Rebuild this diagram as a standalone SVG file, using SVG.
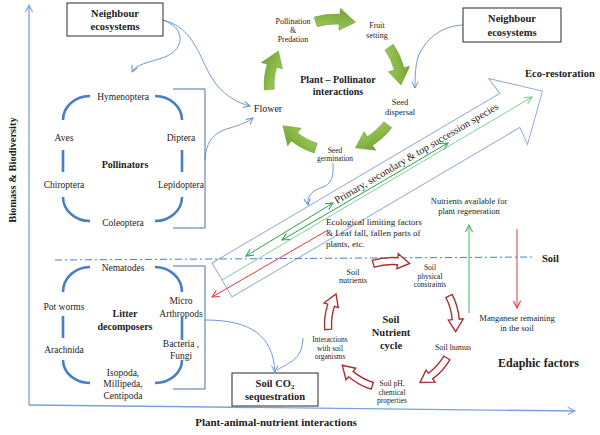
<svg xmlns="http://www.w3.org/2000/svg" xmlns:xlink="http://www.w3.org/1999/xlink" width="600" height="435" viewBox="0 0 600 435" font-family="'Liberation Serif', 'DejaVu Serif', serif">
<style>
text{font-family:"Liberation Serif","DejaVu Serif",serif;fill:#1c1c1c}
.m{text-anchor:middle}
.b{font-weight:bold}
.s95{font-size:9.5px}
.s8{font-size:8px}
.s75{font-size:7.5px}
.s85{font-size:8.5px}
.box{fill:#fff;stroke:#2a2a2a;stroke-width:1}
.arc{fill:none;stroke:#4a7ec4;stroke-width:2.6;stroke-linecap:butt}
.brk{fill:none;stroke:#4f70a8;stroke-width:1}
.blue{fill:none;stroke:#5b8fd0;stroke-width:0.9;marker-end:url(#ab)}
.axis{fill:none;stroke:#7aa2dc;stroke-width:1.3}
.red{fill:#fff;stroke:#a83232;stroke-width:1.4}
.grn{fill:url(#gg);stroke:#6f9a34;stroke-width:0.5}
</style>
<defs>
<linearGradient id="gg" x1="0" y1="0" x2="1" y2="1">
<stop offset="0" stop-color="#a9cf68"/>
<stop offset="0.5" stop-color="#8ab948"/>
<stop offset="1" stop-color="#6c9b2c"/>
</linearGradient>
<marker id="ab" viewBox="0 0 10 10" refX="9" refY="5" markerWidth="8" markerHeight="8" orient="auto" markerUnits="userSpaceOnUse"><path d="M1,1 L9,5 L1,9" fill="none" stroke="#5b8fd0" stroke-width="1.2"/></marker>
<marker id="ax" viewBox="0 0 10 10" refX="9" refY="5" markerWidth="9" markerHeight="9" orient="auto" markerUnits="userSpaceOnUse"><path d="M1,1 L9,5 L1,9" fill="none" stroke="#7aa2dc" stroke-width="1.2"/></marker>
<marker id="dg" viewBox="0 0 10 10" refX="9" refY="5" markerWidth="9" markerHeight="9" orient="auto-start-reverse" markerUnits="userSpaceOnUse"><path d="M1,1 L9,5 L1,9" fill="none" stroke="#2ca04a" stroke-width="1.2"/></marker>
<marker id="lg" viewBox="0 0 10 10" refX="9" refY="5" markerWidth="9" markerHeight="9" orient="auto-start-reverse" markerUnits="userSpaceOnUse"><path d="M1,1 L9,5 L1,9" fill="none" stroke="#6fcf80" stroke-width="1.2"/></marker>
<marker id="rd" viewBox="0 0 10 10" refX="9" refY="5" markerWidth="9" markerHeight="9" orient="auto-start-reverse" markerUnits="userSpaceOnUse"><path d="M1,1 L9,5 L1,9" fill="none" stroke="#e8383a" stroke-width="1.2"/></marker>
<marker id="vg" viewBox="0 0 10 10" refX="9" refY="5" markerWidth="9" markerHeight="9" orient="auto" markerUnits="userSpaceOnUse"><path d="M1,1 L9,5 L1,9" fill="none" stroke="#48b063" stroke-width="1.2"/></marker>
<path id="garrow" d="M71,0 A71,71 0 0 1 66.28,25.44 L71.89,27.59 L54.06,37.86 L51.35,19.71 L56.95,21.86 A61,61 0 0 0 61,0 Z"/>
<path id="rarrow" d="M67.5,0 A67.5,67.5 0 0 1 62.58,25.29 L66.29,26.78 L53.67,34.86 L52.39,21.17 L56.09,22.66 A60.5,60.5 0 0 0 60.5,0 Z"/>
</defs>
<rect width="600" height="435" fill="#fff"/>

<g id="axes">
<path class="axis" d="M29,405 L29,5" marker-end="url(#ax)"/>
<path class="axis" d="M29,405 L575,411" marker-end="url(#ax)"/>
<text class="b" font-size="10.5" text-anchor="middle" transform="translate(16,170) rotate(-90)">Biomass &amp; Biodiversity</text>
<text class="b m" font-size="11" x="276" y="426">Plant-animal-nutrient interactions</text>
</g>

<g id="succession-arrow">
<polygon points="0,0 334,0 332,-18.5 372,19.7 332,58 334,39.4 0,39.4" transform="translate(212,263) rotate(-30.5)" fill="none" stroke="#8aa6d6" stroke-width="0.9"/>
<text font-size="10.5" transform="translate(337,204) rotate(-30.5)">Primary, secondary &amp; top succession species</text>
<text class="b" font-size="10.5" x="525" y="77">Eco-restoration</text>
</g>

<g id="connectors">
<path d="M55,260 L533,257" fill="none" stroke="#4a7fc9" stroke-width="1" stroke-dasharray="7,3,2,3"/>
<path class="blue" d="M163,20 C185,28 186,48 165,57 C148,63 136,64 132,72"/>
<path class="blue" d="M163,20 C195,28 200,60 212,78 C222,95 238,103 250,106"/>
<path class="blue" d="M205,160 C206,140 215,132 230,128 C240,125 248,122 253,118"/>
<path class="blue" d="M463,25 C440,26 425,40 418,57 C415,68 415,80 415,88"/>
<path class="blue" d="M333,163 C334,180 330,185 320,188 C310,192 307,198 308,205"/>
<path class="blue" d="M205,320 C250,320 273,335 275,372"/>
<path d="M303,338 C302,360 290,362 277,370" fill="none" stroke="#5b8fd0" stroke-width="0.9"/>
<line x1="333" y1="203" x2="246" y2="256" stroke="#2ca04a" stroke-width="1" marker-start="url(#dg)" marker-end="url(#dg)"/>
<line x1="282" y1="240" x2="448" y2="143" stroke="#2ca04a" stroke-width="1" marker-start="url(#dg)" marker-end="url(#dg)"/>
<line x1="222" y1="280" x2="532" y2="97" stroke="#7fd48f" stroke-width="1" marker-end="url(#lg)"/>
<line x1="328" y1="230" x2="212" y2="297" stroke="#e8383a" stroke-width="1" marker-end="url(#rd)"/>
<line x1="469" y1="313" x2="469" y2="225" stroke="#48b063" stroke-width="1" marker-end="url(#vg)"/>
<line x1="517" y1="229" x2="517" y2="308" stroke="#e03a3a" stroke-width="1" marker-end="url(#rd)"/>
</g>

<g id="neighbour-left">
<rect class="box" x="67" y="3" width="96" height="33"/>
<text class="b m" font-size="10.5" x="115" y="17">Neighbour</text>
<text class="b m" font-size="10.5" x="115" y="30">ecosystems</text>
</g>

<g id="neighbour-right">
<rect class="box" x="463" y="8" width="98" height="34"/>
<text class="b m" font-size="10.5" x="512" y="22">Neighbour</text>
<text class="b m" font-size="10.5" x="512" y="35.5">ecosystems</text>
</g>

<g id="pollinators">
<path class="arc" d="M63,120 A27,24 0 0 1 90,96"/>
<path class="arc" d="M155,96 A27,24 0 0 1 182,120"/>
<path class="arc" d="M63,150 L63,172"/>
<path class="arc" d="M182,150 L182,172"/>
<path class="arc" d="M63,197 A27,24 0 0 0 90,221"/>
<path class="arc" d="M182,197 A27,24 0 0 1 155,221"/>
<path class="brk" d="M173,89 L205,89 L205,228 L173,228"/>
<text class="m s95" x="123" y="99.5">Hymenoptera</text>
<text class="m s95" x="64" y="140.5">Aves</text>
<text class="m s95" x="181" y="140.5">Diptera</text>
<text class="m b" font-size="10" x="125" y="167.5">Pollinators</text>
<text class="m s95" x="64" y="187.5">Chiroptera</text>
<text class="m s95" x="181" y="187.5">Lepidoptera</text>
<text class="m s95" x="123" y="225.5">Coleoptera</text>
</g>

<g id="litter-decomposers">
<path class="arc" d="M63,292 A27,25 0 0 1 90,267"/>
<path class="arc" d="M155,267 A27,25 0 0 1 182,292"/>
<path class="arc" d="M63,316 L63,338"/>
<path class="arc" d="M182,317 L182,340"/>
<path class="arc" d="M63,360 A27,23 0 0 0 90,383"/>
<path class="arc" d="M182,360 A27,23 0 0 1 155,383"/>
<path class="brk" d="M173,266 L205,266 L205,389 L173,389"/>
<text class="m s95" x="123" y="270.5">Nematodes</text>
<text class="m s95" x="64" y="309.5">Pot worms</text>
<text class="m s95" x="181" y="303.5">Micro</text>
<text class="m s95" x="181" y="316.5">Arthropods</text>
<text class="m b" font-size="10" x="125" y="316.5">Litter</text>
<text class="m b" font-size="10" x="125" y="329.5">decomposers</text>
<text class="m s95" x="64" y="352.5">Arachnida</text>
<text class="m s95" x="181" y="346.5">Bacteria ,</text>
<text class="m s95" x="181" y="358.5">Fungi</text>
<text class="m s95" x="123" y="375.5">Isopoda,</text>
<text class="m s95" x="123" y="387">Millipeda,</text>
<text class="m s95" x="123" y="398.5">Centipoda</text>
</g>

<g id="soil-co2">
<rect class="box" x="232" y="373" width="86" height="33"/>
<text class="b m" font-size="10.5" x="275" y="386.5">Soil CO<tspan font-size="7" dy="2.5">2</tspan></text>
<text class="b m" font-size="10.5" x="275" y="400">sequestration</text>
</g>

<g id="plant-pollinator-cycle">
<use xlink:href="#garrow" class="grn" transform="translate(335,85) rotate(-107)"/>
<use xlink:href="#garrow" class="grn" transform="translate(335,85) rotate(-35)"/>
<use xlink:href="#garrow" class="grn" transform="translate(335,85) rotate(37)"/>
<use xlink:href="#garrow" class="grn" transform="translate(335,85) rotate(107)"/>
<use xlink:href="#garrow" class="grn" transform="translate(335,85) rotate(176)"/>
<text class="m s8" x="293" y="23.8">Pollination</text>
<text class="m s8" x="293" y="32.8">&amp;</text>
<text class="m s8" x="293" y="41.8">Predation</text>
<text class="m s8" x="377" y="27.8">Fruit</text>
<text class="m s8" x="377" y="37.8">setting</text>
<text class="m s85" x="400" y="105">Seed</text>
<text class="m s85" x="400" y="115">dispersal</text>
<text class="m s75" x="335" y="152.8">Seed</text>
<text class="m s75" x="335" y="160.8">germination</text>
<text class="m" font-size="10" x="268" y="111.5">Flower</text>
<text class="m b" font-size="10" x="338" y="82.5">Plant – Pollinator</text>
<text class="m b" font-size="10" x="338" y="94.5">interactions</text>
</g>

<g id="soil-nutrient-cycle">
<use xlink:href="#rarrow" class="red" transform="translate(392,325) rotate(-107)"/>
<use xlink:href="#rarrow" class="red" transform="translate(392,325) rotate(-27)"/>
<use xlink:href="#rarrow" class="red" transform="translate(392,325) rotate(31)"/>
<use xlink:href="#rarrow" class="red" transform="translate(392,325) rotate(108)"/>
<use xlink:href="#rarrow" class="red" transform="translate(392,325) rotate(176)"/>
<text class="m s8" x="353" y="274.8">Soil</text>
<text class="m s8" x="353" y="282.8">nutrients</text>
<text class="m s75" x="430" y="269.6">Soil</text>
<text class="m s75" x="430" y="278.6">physical</text>
<text class="m s75" x="430" y="286.6">constraints</text>
<text class="m s8" x="453" y="349.8">Soil humus</text>
<text class="m s75" x="392" y="385.6">Soil pH,</text>
<text class="m s75" x="392" y="394.6">chemical</text>
<text class="m s75" x="392" y="402.6">properties</text>
<text class="m s75" x="330" y="341.6">Interactions</text>
<text class="m s75" x="330" y="350.6">with soil</text>
<text class="m s75" x="330" y="358.6">organisms</text>
<text class="m b" font-size="10.5" x="391" y="322.7">Soil</text>
<text class="m b" font-size="10.5" x="391" y="335.7">Nutrient</text>
<text class="m b" font-size="10.5" x="391" y="348.5">cycle</text>
</g>

<g id="soil-labels">
<text font-size="9" x="326" y="225">Ecological limiting factors</text>
<text font-size="9" x="326" y="236">&amp; Leaf fall, fallen parts of</text>
<text font-size="9" x="326" y="246.5">plants, etc.</text>
<text class="m s85" x="469" y="204">Nutrients available for</text>
<text class="m s85" x="469" y="214">plant regeneration</text>
<text class="m s85" x="517" y="321">Manganese remaining</text>
<text class="m s85" x="517" y="331">in the soil</text>
<text class="b" font-size="10.5" x="542" y="262">Soil</text>
<text class="b" font-size="12" x="498" y="367">Edaphic factors</text>
</g>
</svg>
